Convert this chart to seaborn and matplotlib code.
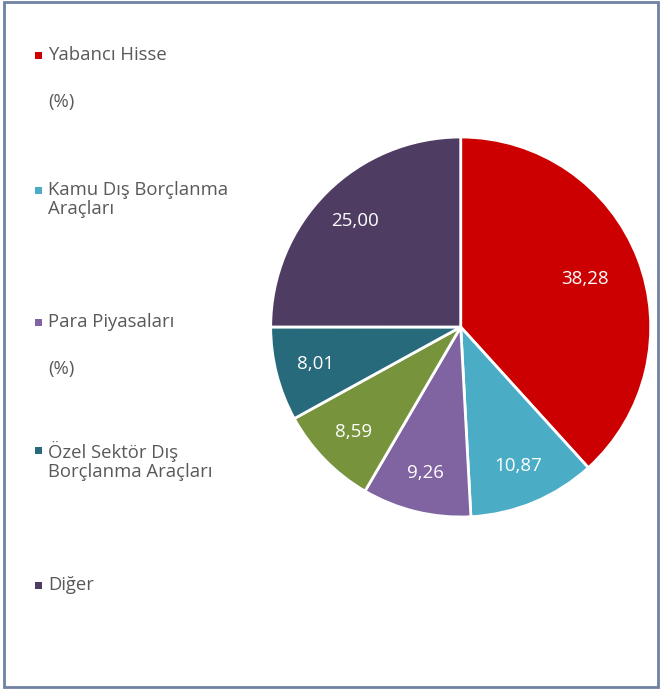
import matplotlib
matplotlib.use("Agg")
import matplotlib.pyplot as plt
import seaborn as sns
import numpy as np
from matplotlib.patches import Rectangle

# data
slice_values = [38.28, 10.87, 9.26, 8.59, 8.01, 25.00]
slice_colors = ["#CC0000", "#4BACC6", "#8064A2", "#77933C", "#276A7C", "#4F3C63"]

legend_labels = ["Yabancı Hisse", "Kamu Dış Borçlanma\nAraçları", "Para Piyasaları",
                 "Özel Sektör Dış\nBorçlanma Araçları", "Diğer"]
legend_colors = ["#CC0000", "#4BACC6", "#8064A2", "#276A7C", "#4F3C63"]
legend_notes = ["(%)", "", "(%)", "", ""]

sns.set_theme(style="white")
plt.rcParams["font.family"] = ["Open Sans", "DejaVu Sans"]

W, H = 666, 690
fig = plt.figure(figsize=(W / 100, H / 100), dpi=100)

# pie
cx, cy, r = 460.7, 327, 190
ax = fig.add_axes([(cx - r) / W, (H - cy - r) / H, 2 * r / W, 2 * r / H])
total = sum(slice_values)
wedges, texts, autotexts = ax.pie(
    slice_values, colors=slice_colors, startangle=90, counterclock=False,
    autopct=lambda p: f"{p * total / 100:.2f}".replace(".", ","),
    pctdistance=0.79,
    wedgeprops=dict(edgecolor="white", linewidth=2),
    textprops=dict(color="white", fontsize=13.5),
)
# biggest slice label sits a bit closer to the centre
x, y = autotexts[0].get_position()
autotexts[0].set_position((x * 0.70 / 0.79, y * 0.70 / 0.79))
ax.set_xlim(-1.0, 1.0)
ax.set_ylim(-1.0, 1.0)
ax.axis("off")

# legend drawn as text entries
legend_y = [55, 190, 322, 450, 585]
for lab, col, note, yy in zip(legend_labels, legend_colors, legend_notes, legend_y):
    fig.add_artist(Rectangle((35 / W, (H - yy - 3.5) / H), 7 / W, 7 / H,
                             transform=fig.transFigure, color=col, lw=0))
    fig.text(48 / W, (H - yy + 9) / H, lab, ha="left", va="top", color="#595959",
             fontsize=13.3, linespacing=1.08)
    if note:
        fig.text(48 / W, (H - yy - 47 + 9) / H, note, ha="left", va="top",
                 color="#595959", fontsize=13.3)

# outer frame
fig.add_artist(Rectangle((3.5 / W, 3 / H), 654 / W, 685 / H, transform=fig.transFigure,
                         fill=False, edgecolor="#6F82A3", lw=2))

fig.savefig("out.png", dpi=100, facecolor="white")
